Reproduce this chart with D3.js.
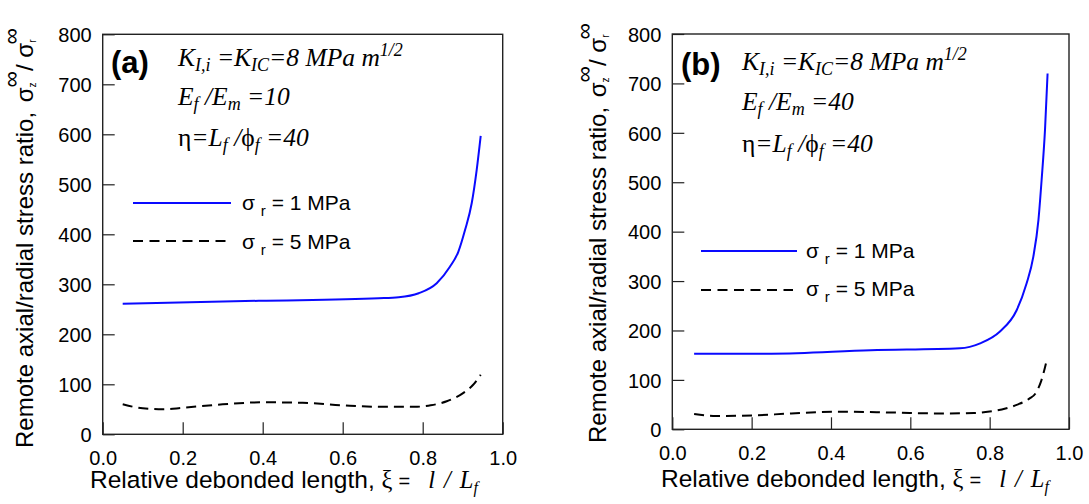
<!DOCTYPE html>
<html>
<head>
<meta charset="utf-8">
<script src="https://cdn.jsdelivr.net/npm/d3@7/dist/d3.min.js"></script>
<style>
  html, body { margin: 0; padding: 0; background: #fff; }
  svg { display: block; }
  text { fill: #000; }
</style>
</head>
<body>
<svg id="chart" width="1089" height="504"></svg>
<script>
// ---- data ----
const xTicks = [0, 0.2, 0.4, 0.6, 0.8, 1.0];
const yTicks = [0, 100, 200, 300, 400, 500, 600, 700, 800];

// panel (a): Ef/Em = 10
const aXi1  = [0.05, 0.39, 0.69, 0.74, 0.79, 0.835, 0.868, 0.889, 0.906, 0.9225, 0.935, 0.945];
const aVal1 = [261, 267, 272, 274, 282, 302, 335, 365, 409, 462, 529, 597];
const aXi5  = [0.05, 0.1, 0.15, 0.2, 0.3, 0.4, 0.5, 0.6, 0.7, 0.78, 0.82, 0.86, 0.9, 0.925, 0.945];
const aVal5 = [60, 52, 50, 53, 60, 64, 63, 58, 55, 55, 58, 66, 82, 98, 119];

// panel (b): Ef/Em = 40
const bXi1  = [0.055, 0.25, 0.5, 0.725, 0.776, 0.826, 0.868, 0.893, 0.91, 0.923, 0.931, 0.9395, 0.946];
const bVal1 = [153, 153, 160, 164, 174, 198, 241, 295, 349, 424, 505, 606, 720];
const bXi5  = [0.055, 0.11, 0.2, 0.3, 0.42, 0.55, 0.68, 0.76, 0.8, 0.84, 0.87, 0.9, 0.915, 0.93, 0.945];
const bVal5 = [31, 27, 28, 32, 35.5, 34, 32, 33, 36, 42, 50, 62, 72, 98, 144];

const legendLabels = ["1 MPa", "5 MPa"];
const panelLabels = ["(a)", "(b)"];
const ratioLabels = ["10", "40"];

// ---- layout ----
const svg = d3.select("#chart");
const SANS = "'Liberation Sans', Arial, Helvetica, sans-serif";
const SERIF = "'Liberation Serif', 'Times New Roman', serif";
const BLUE = "#0a0aff";

const panels = [
  { x0: 102.7, x1: 502.7, y0: 434.3, y1: 34.3, s1: [aXi1, aVal1], s5: [aXi5, aVal5],
    label: panelLabels[0], ratio: ratioLabels[0],
    labX: 111, labY: 73, annX: 178, annY: [66, 105, 145.5],
    legX0: 133, legX1: 231, legY: [203, 241], legTX: 242, legTY: [210, 248.5],
    ytX: 33.3, ytY: 448, xtX: 90, xtY: 488 },
  { x0: 672.3, x1: 1069, y0: 429.3, y1: 34, s1: [bXi1, bVal1], s5: [bXi5, bVal5],
    label: panelLabels[1], ratio: ratioLabels[1],
    labX: 681, labY: 75, annX: 742, annY: [70, 110, 151.5],
    legX0: 701, legX1: 797, legY: [251, 290], legTX: 806, legTY: [257.5, 295.5],
    ytX: 605.5, ytY: 443, xtX: 661, xtY: 486.5 }
];

panels.forEach(p => {
  const x = d3.scaleLinear().domain([0, 1]).range([p.x0, p.x1]);
  const y = d3.scaleLinear().domain([0, 800]).range([p.y0, p.y1]);
  const g = svg.append("g");

  // axes (inward ticks)
  const yAxis = d3.axisLeft(y).tickValues(yTicks).tickSizeInner(-12).tickSizeOuter(0).tickPadding(11)
    .tickFormat(d3.format("d"));
  const xAxis = d3.axisBottom(x).tickValues(xTicks).tickSizeInner(-12).tickSizeOuter(0).tickPadding(17)
    .tickFormat(d3.format(".1f"));

  const ya = g.append("g").attr("transform", `translate(${p.x0},0)`).call(yAxis);
  const xa = g.append("g").attr("transform", `translate(0,${p.y0})`).call(xAxis);
  [ya, xa].forEach(a => {
    a.select(".domain").remove();
    a.selectAll("line").attr("stroke", "#222").attr("stroke-width", 1.2);
    a.selectAll("text").attr("font-family", SANS).attr("font-size", 20).attr("fill", "#000");
  });
  ya.selectAll("text").attr("dy", "0.36em");

  // frame
  g.append("rect").attr("x", p.x0).attr("y", p.y1)
    .attr("width", p.x1 - p.x0).attr("height", p.y0 - p.y1)
    .attr("fill", "none").attr("stroke", "#222").attr("stroke-width", 1.4);

  // curves
  const line = d3.line().x(d => x(d[0])).y(d => y(d[1])).curve(d3.curveMonotoneX);
  const d1 = p.s1[0].map((v, i) => [v, p.s1[1][i]]);
  const d5 = p.s5[0].map((v, i) => [v, p.s5[1][i]]);
  g.append("path").datum(d1).attr("d", line).attr("fill", "none")
    .attr("stroke", BLUE).attr("stroke-width", 2);
  g.append("path").datum(d5).attr("d", line).attr("fill", "none")
    .attr("stroke", "#000").attr("stroke-width", 2).attr("stroke-dasharray", "10,6");

  // legend
  g.append("line").attr("x1", p.legX0).attr("x2", p.legX1).attr("y1", p.legY[0]).attr("y2", p.legY[0])
    .attr("stroke", BLUE).attr("stroke-width", 2);
  g.append("line").attr("x1", p.legX0).attr("x2", p.legX1 - 4).attr("y1", p.legY[1]).attr("y2", p.legY[1])
    .attr("stroke", "#000").attr("stroke-width", 2).attr("stroke-dasharray", "10,6.5");
  legendLabels.forEach((lab, i) => {
    const t = g.append("text").attr("x", p.legTX).attr("y", p.legTY[i])
      .attr("font-family", SANS).attr("font-size", 21);
    t.append("tspan").text("σ ");
    t.append("tspan").attr("font-size", 15).attr("dy", 6).text("r");
    t.append("tspan").attr("dy", -6).text(" = " + lab);
  });

  // panel label
  g.append("text").attr("x", p.labX).attr("y", p.labY)
    .attr("font-family", SANS).attr("font-weight", "bold").attr("font-size", 31).text(p.label);

  // annotations
  const ann = (yy) => g.append("text").attr("x", p.annX).attr("y", yy)
    .attr("font-family", SERIF).attr("font-style", "italic").attr("font-size", 25.5);
  const sub = (t, s, fs = 18) => { t.append("tspan").attr("font-size", fs).attr("dy", 5).text(s); };
  const back = (t, s, dy = -5) => { t.append("tspan").attr("dy", dy).text(s); };

  let t1 = ann(p.annY[0]);
  t1.append("tspan").text("K"); sub(t1, "I,i"); back(t1, " =K"); sub(t1, "IC"); back(t1, "=8 MPa m");
  t1.append("tspan").attr("font-size", 18).attr("dy", -10).text("1/2");

  let t2 = ann(p.annY[1]);
  t2.append("tspan").text("E"); sub(t2, "f"); back(t2, " /E"); sub(t2, "m"); back(t2, " =" + p.ratio);

  let t3 = ann(p.annY[2]);
  t3.append("tspan").attr("font-style", "normal").text("η");
  t3.append("tspan").text("=L"); sub(t3, "f"); back(t3, " /");
  t3.append("tspan").attr("font-style", "normal").text("ϕ");
  sub(t3, "f"); back(t3, " =40");

  // y-axis title
  const yt = g.append("text").attr("transform", `translate(${p.ytX},${p.ytY}) rotate(-90)`)
    .attr("font-family", SANS).attr("font-size", 24);
  yt.append("tspan").text("Remote axial/radial stress ratio, ");
  yt.append("tspan").attr("dx", 3).text("σ");
  yt.append("tspan").attr("font-size", 10).attr("dy", 3).text("z");
  yt.append("tspan").attr("font-size", 23).attr("dx", -5).attr("dy", -17).text("∞");
  yt.append("tspan").attr("dy", 14).text("/ σ");
  yt.append("tspan").attr("font-size", 10).attr("dy", 3).text("r");
  yt.append("tspan").attr("font-size", 23).attr("dx", -5).attr("dy", -17).text("∞");

  // x-axis title
  const xt = g.append("text").attr("x", p.xtX).attr("y", p.xtY)
    .attr("font-family", SANS).attr("font-size", 24.5);
  xt.append("tspan").text("Relative debonded length, ");
  xt.append("tspan").attr("font-family", SERIF).text("ξ");
  xt.append("tspan").attr("font-size", 20).attr("dx", 6).text("=");
  xt.append("tspan").attr("font-family", SERIF).attr("font-style", "italic").attr("dx", 18).text("l");
  xt.append("tspan").attr("font-family", SERIF).attr("font-style", "italic").attr("dx", 9).text("/");
  xt.append("tspan").attr("font-family", SERIF).attr("font-style", "italic").attr("dx", 9).text("L");
  xt.append("tspan").attr("font-family", SERIF).attr("font-style", "italic").attr("font-size", 16).attr("dy", 5).text("f");
});
</script>
</body>
</html>
